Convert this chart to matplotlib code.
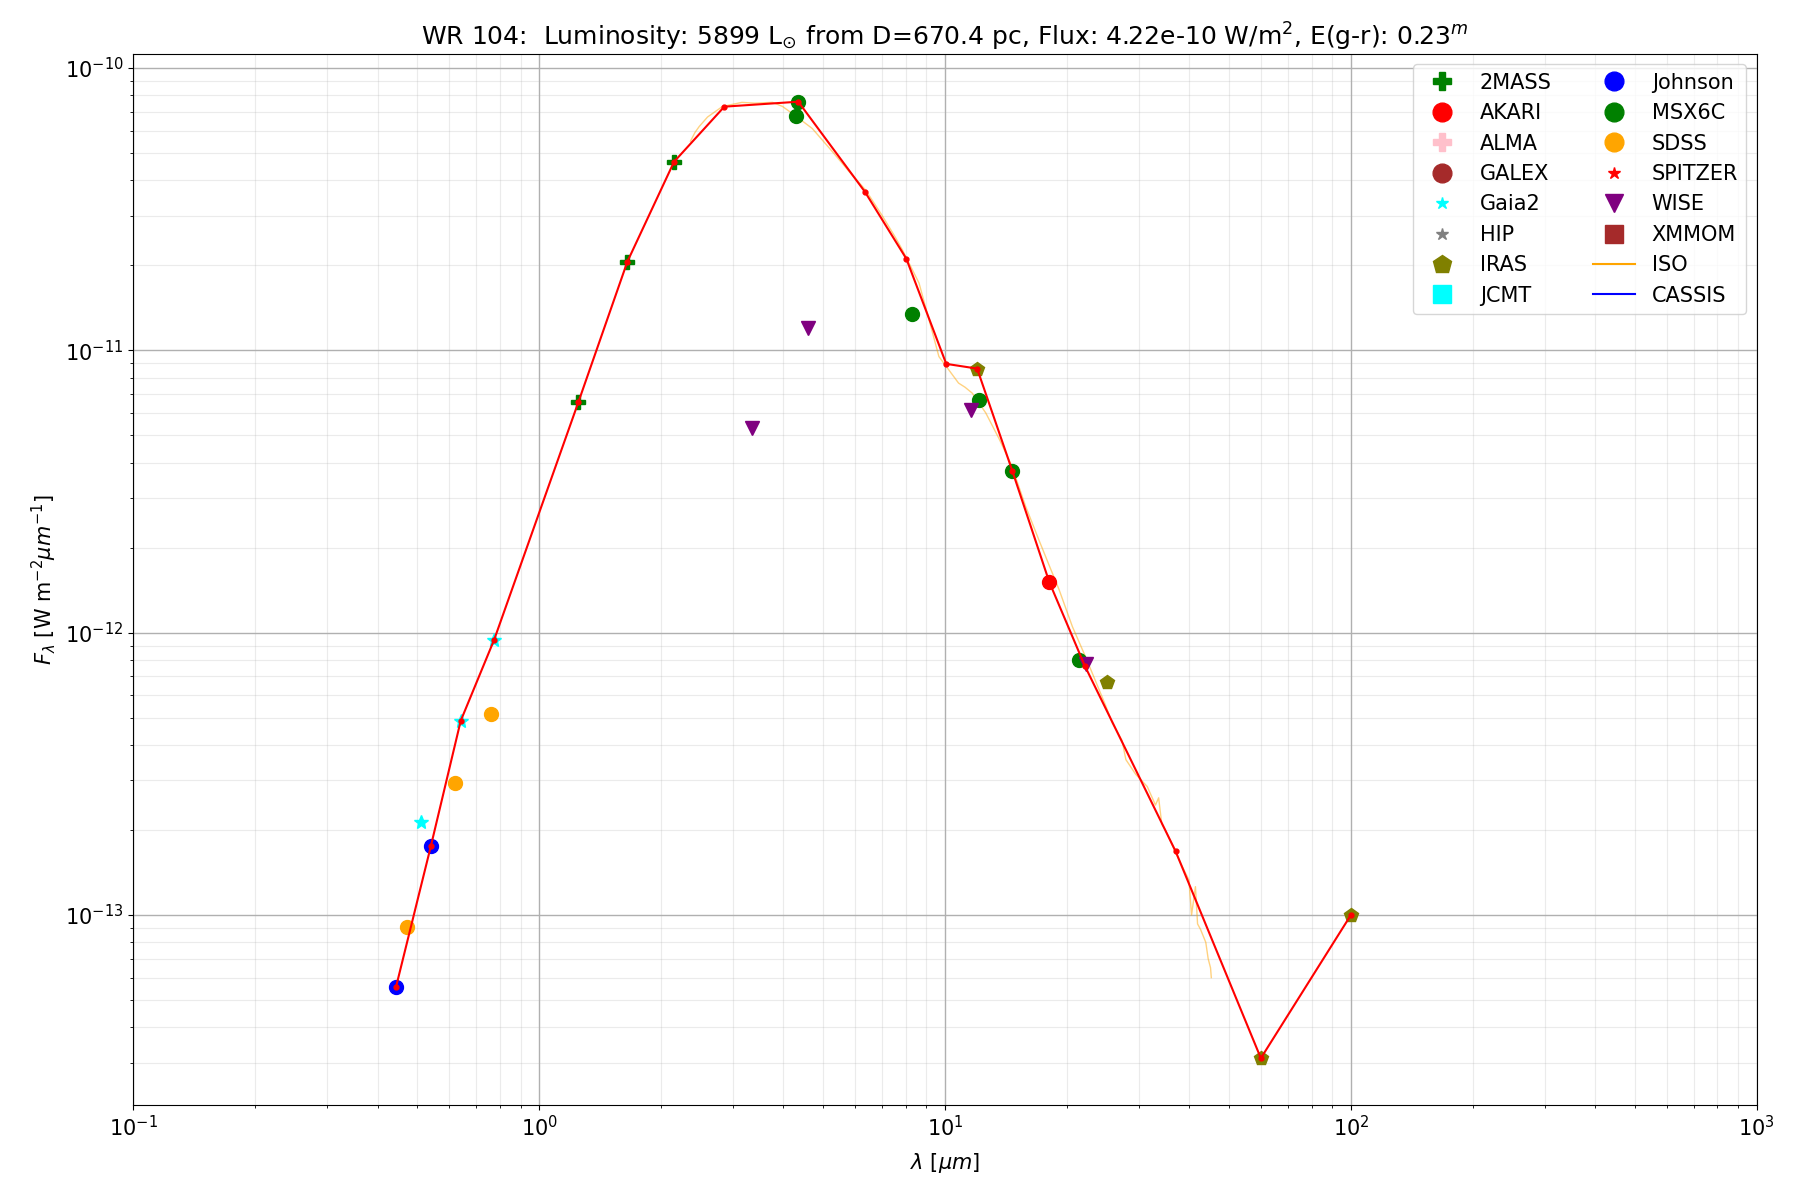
import matplotlib
matplotlib.use("Agg")
import matplotlib.pyplot as plt
from matplotlib.lines import Line2D

plt.rcParams["font.size"] = 15

# photometry per survey: wavelength [um], flux [W m^-2 um^-1]
mass2_wl = [1.25, 1.65, 2.15]
mass2_fl = [6.56e-12, 2.06e-11, 4.65e-11]
akari_wl = [18.07]
akari_fl = [1.51e-12]
gaia_wl = [0.513, 0.641, 0.775]
gaia_fl = [2.13e-13, 4.87e-13, 9.44e-13]
iras_wl = [12.0, 25.1, 60.0, 100.0]
iras_fl = [8.61e-12, 6.71e-13, 3.11e-14, 1.0e-13]
johnson_wl = [0.444, 0.541]
johnson_fl = [5.55e-14, 1.75e-13]
msx_wl = [4.30, 4.35, 8.31, 12.13, 14.65, 21.38]
msx_fl = [6.75e-11, 7.59e-11, 1.345e-11, 6.64e-12, 3.74e-12, 8.0e-13]
sdss_wl = [0.474, 0.621, 0.763]
sdss_fl = [9.09e-14, 2.93e-13, 5.14e-13]
wise_wl = [3.35, 4.61, 11.6, 22.2]
wise_fl = [5.29e-12, 1.20e-11, 6.16e-12, 7.74e-13]

# adopted SED (red line)
sed_wl = [0.444, 0.541, 0.641, 0.775, 1.25, 1.65, 2.15, 2.86, 4.35, 6.35,
          8.03, 10.07, 12.0, 14.65, 18.07, 22.1, 37.0, 60.0, 100.0]
sed_fl = [5.55e-14, 1.75e-13, 4.87e-13, 9.44e-13, 6.56e-12, 2.06e-11,
          4.65e-11, 7.29e-11, 7.59e-11, 3.64e-11, 2.11e-11, 8.95e-12,
          8.61e-12, 3.74e-12, 1.51e-12, 7.63e-13, 1.68e-13, 3.11e-14,
          1.0e-13]

# ISO spectrum
iso_wl = [2.36, 2.42, 2.48, 2.6, 2.83, 3.16, 3.4, 3.76, 3.98, 4.29, 4.71,
          5.28, 5.8, 6.37, 7.0, 7.56, 7.85, 8.63, 9.22, 9.66, 10.2, 10.8,
          11.2, 11.67, 12.6, 13.6, 14.6, 15.8, 17.1, 18.0, 19.1, 20.6, 22.2,
          24.9, 25.8, 27.3, 27.9, 29.5, 31.5, 33.0, 33.6, 34.2, 34.9, 37.7,
          39.9, 40.5, 41.4, 41.9, 42.6, 43.9, 44.5, 45.1, 45.3]
iso_fl = [5.5e-11, 5.9e-11, 6.2e-11, 6.7e-11, 7.3e-11, 7.55e-11, 7.5e-11,
          7.55e-11, 7.3e-11, 6.75e-11, 6.1e-11, 5.05e-11, 4.3e-11, 3.7e-11,
          3.0e-11, 2.5e-11, 2.27e-11, 1.73e-11, 1.22e-11, 9.5e-12, 8.55e-12,
          7.65e-12, 7.4e-12, 7.05e-12, 6.0e-12, 4.85e-12, 3.9e-12, 2.8e-12,
          2.1e-12, 1.75e-12, 1.42e-12, 1.05e-12, 8.2e-13, 5.5e-13, 4.8e-13,
          4.15e-13, 3.55e-13, 3.15e-13, 2.85e-13, 2.45e-13, 2.6e-13,
          2.1e-13, 2.0e-13, 1.57e-13, 1.33e-13, 1.0e-13, 1.26e-13, 9.3e-14,
          8.9e-14, 8.0e-14, 7.0e-14, 6.5e-14, 6.0e-14]

title = (r"WR 104:  Luminosity: 5899 L$_{\odot}$ from D=670.4 pc, "
         r"Flux: 4.22e-10 W/m$^2$, E(g-r): 0.23$^m$")

fig, ax = plt.subplots(figsize=(18, 12), dpi=100)

ax.plot(iso_wl, iso_fl, color="orange", alpha=0.5, lw=1)
ax.plot(sed_wl, sed_fl, "r.-", lw=1.5, ms=7, zorder=4)

ms = 10
ax.plot(mass2_wl, mass2_fl, "P", color="green", ms=ms, ls="none", zorder=3)
ax.plot(akari_wl, akari_fl, "o", color="red", ms=ms, ls="none", zorder=3)
ax.plot(gaia_wl, gaia_fl, "*", color="cyan", ms=ms, ls="none", zorder=3)
ax.plot(iras_wl, iras_fl, "p", color="olive", ms=ms, ls="none", zorder=3)
ax.plot(johnson_wl, johnson_fl, "o", color="blue", ms=ms, ls="none", zorder=3)
ax.plot(msx_wl, msx_fl, "o", color="green", ms=ms, ls="none", zorder=3)
ax.plot(sdss_wl, sdss_fl, "o", color="orange", ms=ms, ls="none", zorder=3)
ax.plot(wise_wl, wise_fl, "v", color="purple", ms=ms, ls="none", zorder=3)

ax.set_xscale("log")
ax.set_yscale("log")
ax.set_xlim(0.1, 1000)
ax.set_ylim(2.12e-14, 1.12e-10)
ax.grid(True, which="major", color="#b0b0b0", lw=1)
ax.grid(True, which="minor", color="#b0b0b0", lw=0.8, alpha=0.25)

ax.set_xlabel(r"$\lambda$ [$\mu m$]", labelpad=8)
ax.set_ylabel(r"$F_\lambda$ [W m$^{-2}\mu m^{-1}$]")
ax.set_title(title)

# legend entries
big = 13.5
handles = [
    Line2D([], [], ls="none", marker="P", color="green", ms=big),
    Line2D([], [], ls="none", marker="o", color="red", ms=big),
    Line2D([], [], ls="none", marker="P", color="pink", ms=big),
    Line2D([], [], ls="none", marker="o", color="brown", ms=big),
    Line2D([], [], ls="none", marker="*", color="cyan", ms=9),
    Line2D([], [], ls="none", marker="*", color="gray", ms=9),
    Line2D([], [], ls="none", marker="p", color="olive", ms=big),
    Line2D([], [], ls="none", marker="s", color="cyan", ms=12.5),
    Line2D([], [], ls="none", marker="o", color="blue", ms=big),
    Line2D([], [], ls="none", marker="o", color="green", ms=big),
    Line2D([], [], ls="none", marker="o", color="orange", ms=big),
    Line2D([], [], ls="none", marker="*", color="red", ms=9),
    Line2D([], [], ls="none", marker="v", color="purple", ms=big),
    Line2D([], [], ls="none", marker="s", color="brown", ms=12.5),
    Line2D([], [], color="orange", lw=1.5),
    Line2D([], [], color="blue", lw=1.5),
]
labels = ["2MASS", "AKARI", "ALMA", "GALEX", "Gaia2", "HIP", "IRAS", "JCMT",
          "Johnson", "MSX6C", "SDSS", "SPITZER", "WISE", "XMMOM", "ISO",
          "CASSIS"]
ax.legend(handles, labels, loc="upper right", ncol=2)

fig.subplots_adjust(left=0.074, right=0.976, top=0.955, bottom=0.079)
fig.savefig("out.png")
